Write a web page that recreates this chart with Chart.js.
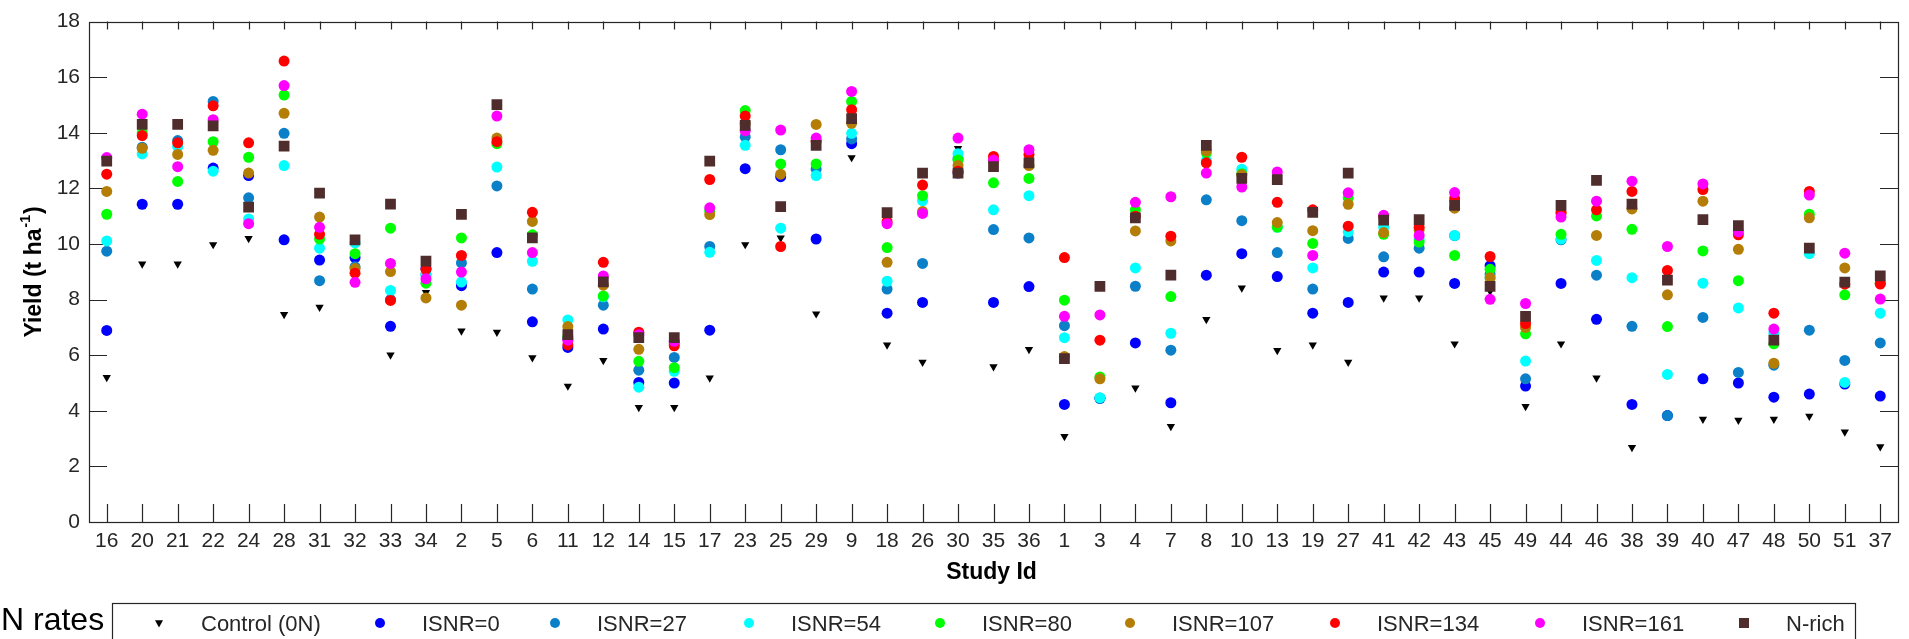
<!DOCTYPE html>
<html>
<head>
<meta charset="utf-8">
<script src="https://cdn.jsdelivr.net/npm/chart.js"></script>
<style>
  html, body { margin: 0; padding: 0; background: #fff; }
  canvas { display: block; }
</style>
</head>
<body>
<canvas id="yieldChart" width="1909" height="639"></canvas>
<script>
  // study ids in plotting order
  const studyIds = ['16', '20', '21', '22', '24', '28', '31', '32', '33', '34',
    '2', '5', '6', '11', '12', '14', '15', '17', '23', '25',
    '29', '9', '18', '26', '30', '35', '36', '1', '3', '4',
    '7', '8', '10', '13', '19', '27', '41', '42', '43', '45',
    '49', '44', '46', '38', '39', '40', '47', '48', '50', '51', '37'];

  const yTicks = [0, 2, 4, 6, 8, 10, 12, 14, 16, 18];

  const control0N = [5.2, 9.28, 9.28, 9.98, 10.2, 7.47, 7.73, 8.9, 6.01, 8.26,
    6.87, 6.83, 5.91, 4.89, 5.81, 4.12, 4.12, 5.18, 9.98, 10.22,
    7.49, 13.11, 6.37, 5.75, 13.44, 5.59, 6.21, 3.08, 4.45, 4.82,
    3.44, 7.29, 8.42, 6.17, 6.37, 5.75, 8.06, 8.06, 6.41, 8.3,
    4.16, 6.41, 5.18, 2.68, 3.83, 3.7, 3.66, 3.7, 3.81, 3.24, 2.71];

  const isnr0 = [6.89, 11.43, 11.43, 12.73, 12.46, 10.15, 9.42, 9.51, 7.04, 9.12,
    8.5, 9.69, 7.2, 6.28, 6.94, 5.02, 5.0, 6.9, 12.71, 12.42,
    10.18, 13.61, 7.51, 7.9, 12.55, 7.9, 8.47, 4.23, 4.45, 6.44,
    4.29, 8.88, 9.65, 8.83, 7.51, 7.9, 8.99, 8.99, 8.58, 9.22,
    4.89, 8.58, 7.29, 4.23, 3.83, 5.15, 5.0, 4.49, 4.6, 4.96, 4.53];

  const isnr27 = [9.74, 13.48, 13.72, 15.13, 11.66, 13.98, 8.68, 9.18, 8.0, 8.92,
    9.32, 12.09, 8.38, 6.6, 7.8, 5.46, 5.92, 9.91, 13.85, 13.39,
    12.69, 13.78, 8.38, 9.3, 13.08, 10.52, 10.22, 7.06, 4.45, 8.48,
    6.18, 11.59, 10.84, 9.69, 8.38, 10.2, 9.54, 9.85, 10.3, 8.92,
    5.15, 10.15, 8.88, 7.04, 3.83, 7.36, 5.38, 5.64, 6.9, 5.81, 6.44];

  const isnr54 = [10.11, 13.24, 13.5, 12.62, 10.9, 12.82, 9.85, 10.04, 8.33, 8.88,
    8.63, 12.77, 9.38, 7.27, 8.1, 4.85, 5.42, 9.7, 13.55, 10.57,
    12.46, 13.98, 8.66, 11.56, 13.25, 11.23, 11.74, 6.63, 4.47, 9.14,
    6.79, 13.0, 12.69, 10.6, 9.14, 10.44, 10.61, 10.18, 10.31, 8.79,
    5.79, 10.18, 9.41, 8.79, 5.31, 8.59, 7.7, 6.81, 9.65, 5.02, 7.51];

  const isnr80 = [11.07, 14.0, 12.25, 13.68, 13.12, 15.36, 10.18, 9.65, 10.57, 8.59,
    10.22, 13.61, 10.33, 6.67, 8.13, 5.78, 5.55, 11.2, 14.8, 12.88,
    12.88, 15.13, 9.87, 11.74, 13.02, 12.2, 12.36, 7.98, 5.22, 11.23,
    8.11, 13.28, 12.53, 10.61, 10.02, 11.66, 10.35, 10.07, 9.59, 9.09,
    6.77, 10.35, 11.01, 10.53, 7.03, 9.75, 8.68, 6.41, 11.07, 8.17, 8.6];

  const isnr107 = [11.89, 13.44, 13.22, 13.37, 12.55, 14.7, 10.97, 9.12, 9.01, 8.06,
    7.8, 13.81, 10.81, 7.03, 8.52, 6.21, 6.41, 11.06, 14.34, 12.51,
    14.3, 14.34, 9.34, 11.17, 12.82, 13.0, 12.82, 5.95, 5.15, 10.47,
    10.11, 13.35, 12.49, 10.77, 10.48, 11.43, 10.41, 10.51, 11.29, 8.79,
    7.0, 11.1, 10.31, 11.26, 8.17, 11.54, 9.81, 5.71, 10.94, 9.14, 8.59];

  const isnr134 = [12.51, 13.9, 13.64, 14.97, 13.64, 16.58, 10.35, 8.95, 7.97, 9.09,
    9.59, 13.68, 11.14, 6.37, 9.34, 6.83, 6.34, 12.32, 14.6, 9.91,
    13.7, 14.83, 10.8, 12.12, 12.62, 13.15, 13.22, 9.51, 6.54, 11.0,
    10.28, 12.92, 13.12, 11.5, 11.23, 10.64, 10.97, 10.6, 11.63, 9.55,
    7.14, 11.13, 11.23, 11.89, 9.05, 11.96, 10.33, 7.51, 11.89, 8.56, 8.56];

  const isnr161 = [13.11, 14.67, 12.78, 14.47, 10.73, 15.7, 10.6, 8.62, 9.3, 8.75,
    8.99, 14.6, 9.69, 6.54, 8.85, 6.74, 6.5, 11.3, 14.07, 14.1,
    13.81, 15.49, 10.73, 11.1, 13.81, 13.02, 13.39, 7.4, 7.45, 11.5,
    11.7, 12.55, 12.05, 12.59, 9.59, 11.84, 11.03, 10.31, 11.85, 8.01,
    7.86, 10.97, 11.54, 12.26, 9.91, 12.16, 10.44, 6.94, 11.76, 9.67, 8.02];

  const nRich = [12.98, 14.3, 14.3, 14.25, 11.33, 13.52, 11.83, 10.15, 11.43, 9.38,
    11.07, 15.01, 10.22, 6.74, 8.64, 6.63, 6.63, 12.98, 14.27, 11.34,
    13.55, 14.51, 11.13, 12.55, 12.55, 12.78, 12.92, 5.88, 8.48, 10.94,
    8.88, 13.55, 12.36, 12.32, 11.14, 12.55, 10.86, 10.88, 11.39, 8.48,
    7.4, 11.39, 12.29, 11.43, 8.7, 10.88, 10.66, 6.54, 9.85, 8.63, 8.85];

  const seriesNames = ['Control (0N)', 'ISNR=0', 'ISNR=27', 'ISNR=54', 'ISNR=80',
    'ISNR=107', 'ISNR=134', 'ISNR=161', 'N-rich'];
  const seriesData = [control0N, isnr0, isnr27, isnr54, isnr80, isnr107, isnr134, isnr161, nRich];
  const seriesColors = ['#000000', '#0000ff', '#0b80c8', '#00ffff', '#00ff00',
    '#b47d06', '#ff0000', '#ff00ff', '#4f2d2d'];
  const seriesShapes = ['triangle', 'circle', 'circle', 'circle', 'circle',
    'circle', 'circle', 'circle', 'rect'];

  // legend marker x positions (layout only)
  const legendX = [159, 380, 555, 749, 940, 1130, 1335, 1540, 1744];

  const datasets = seriesNames.map((name, i) => ({
    label: name,
    data: seriesData[i],
    showLine: false,
    pointStyle: seriesShapes[i],
    pointRotation: seriesShapes[i] === 'triangle' ? 180 : 0,
    pointRadius: seriesShapes[i] === 'triangle' ? 4.8 : (seriesShapes[i] === 'rect' ? 7.6 : 5.5),
    pointBackgroundColor: seriesColors[i],
    pointBorderColor: seriesColors[i],
    pointBorderWidth: 0,
    order: seriesNames.length - i   // later series drawn on top
  }));

  function marker(ctx, shape, x, y, color) {
    ctx.fillStyle = color;
    ctx.beginPath();
    if (shape === 'triangle') {
      ctx.moveTo(x - 4, y - 2.8);
      ctx.lineTo(x + 4, y - 2.8);
      ctx.lineTo(x, y + 4.5);
      ctx.closePath();
    } else if (shape === 'rect') {
      ctx.rect(x - 5, y - 5, 10, 10);
    } else {
      ctx.arc(x, y, 5, 0, Math.PI * 2);
    }
    ctx.fill();
  }

  const frame = {
    id: 'frame',
    beforeDatasetsDraw(chart) {
      const { ctx, chartArea: a, scales: { x, y } } = chart;
      ctx.save();
      ctx.strokeStyle = '#262626';
      ctx.lineWidth = 1.2;
      ctx.strokeRect(Math.round(a.left) + 0.5, Math.round(a.top) + 0.5,
        Math.round(a.right - a.left), Math.round(a.bottom - a.top));
      ctx.beginPath();
      x.ticks.forEach((t, i) => {
        const px = Math.round(x.getPixelForTick(i)) + 0.5;
        ctx.moveTo(px, a.bottom); ctx.lineTo(px, a.bottom - 18);
        ctx.moveTo(px, a.top); ctx.lineTo(px, a.top + 8);
      });
      y.ticks.forEach((t, i) => {
        const py = Math.round(y.getPixelForTick(i)) + 0.5;
        ctx.moveTo(a.left, py); ctx.lineTo(a.left + 18, py);
        ctx.moveTo(a.right, py); ctx.lineTo(a.right - 18, py);
      });
      ctx.stroke();
      ctx.restore();
    },
    afterDraw(chart) {
      const { ctx, chartArea: a } = chart;
      ctx.save();
      ctx.fillStyle = '#000';
      // x title
      ctx.font = 'bold 23px "Liberation Sans", Arial, sans-serif';
      ctx.textAlign = 'center';
      ctx.textBaseline = 'alphabetic';
      ctx.fillText('Study Id', (a.left + a.right) / 2 - 2, 579);

      // y title with superscript
      ctx.save();
      ctx.translate(41, 272);
      ctx.rotate(-Math.PI / 2);
      const p1 = 'Yield (t ha', p2 = '-1', p3 = ')';
      ctx.font = 'bold 23px "Liberation Sans", Arial, sans-serif';
      const w1 = ctx.measureText(p1).width, w3 = ctx.measureText(p3).width;
      ctx.font = 'bold 14px "Liberation Sans", Arial, sans-serif';
      const w2 = ctx.measureText(p2).width;
      let sx = -(w1 + w2 + w3 + 2) / 2;
      ctx.textAlign = 'left';
      ctx.font = 'bold 23px "Liberation Sans", Arial, sans-serif';
      ctx.fillText(p1, sx, 0);
      ctx.font = 'bold 14px "Liberation Sans", Arial, sans-serif';
      ctx.fillText(p2, sx + w1 + 1, -11);
      ctx.font = 'bold 23px "Liberation Sans", Arial, sans-serif';
      ctx.fillText(p3, sx + w1 + w2 + 2, 0);
      ctx.restore();

      // legend
      ctx.font = '32px "Liberation Sans", Arial, sans-serif';
      ctx.textAlign = 'left';
      ctx.fillStyle = '#000';
      ctx.fillText('N rates', 1, 630);
      ctx.strokeStyle = '#262626';
      ctx.lineWidth = 1.2;
      ctx.strokeRect(112.5, 603.5, 1855 - 112, 50);
      ctx.font = '22px "Liberation Sans", Arial, sans-serif';
      seriesNames.forEach((name, i) => {
        marker(ctx, seriesShapes[i], legendX[i], 623, seriesColors[i]);
        ctx.fillStyle = '#262626';
        ctx.fillText(name, legendX[i] + 42, 631);
      });
      ctx.restore();
    }
  };

  const ctx = document.getElementById('yieldChart');
  const chartGraph = new Chart(ctx, {
    type: 'line',
    data: { labels: studyIds, datasets: datasets },
    options: {
      responsive: false,
      animation: false,
      devicePixelRatio: 1,
      layout: { padding: { left: 0, right: 11, top: 18, bottom: 0 } },
      plugins: { legend: { display: false }, tooltip: { enabled: false } },
      scales: {
        x: {
          type: 'category',
          offset: true,
          grid: { display: false, drawTicks: false },
          border: { display: false },
          ticks: {
            autoSkip: false, maxRotation: 0, padding: 7,
            color: '#262626',
            font: { family: '"Liberation Sans", Arial, sans-serif', size: 21 }
          },
          afterFit(s) { s.height = 117; }
        },
        y: {
          min: 0, max: 18,
          afterBuildTicks(s) { s.ticks = yTicks.map(v => ({ value: v })); },
          grid: { display: false, drawTicks: false },
          border: { display: false },
          ticks: {
            padding: 9,
            color: '#262626',
            font: { family: '"Liberation Sans", Arial, sans-serif', size: 21 }
          },
          afterFit(s) { s.width = 89; }
        }
      }
    },
    plugins: [frame]
  });
</script>
</body>
</html>
